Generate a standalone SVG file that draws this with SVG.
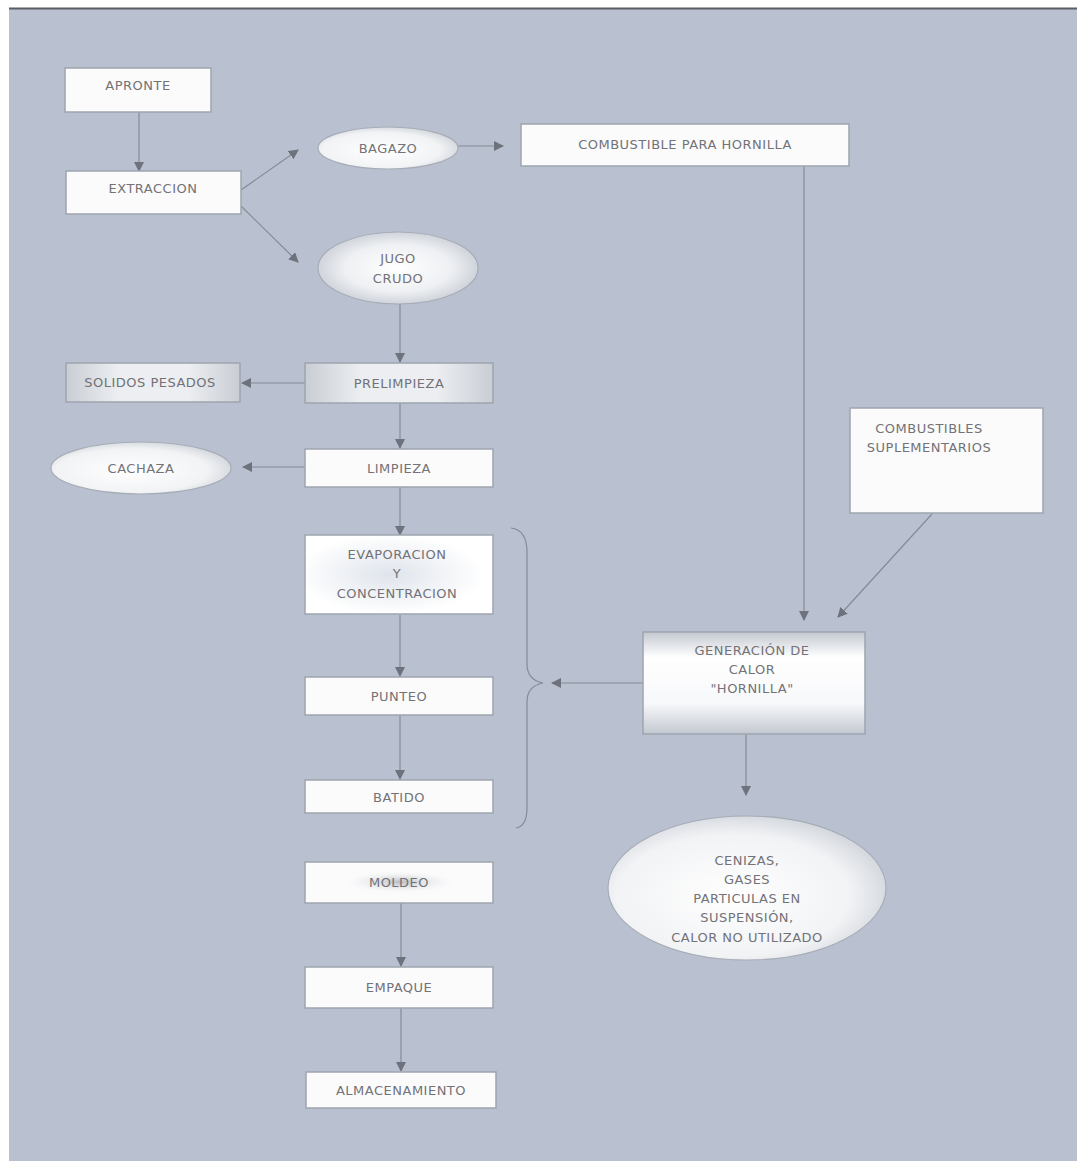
<svg xmlns="http://www.w3.org/2000/svg" width="1077" height="1161" viewBox="0 0 1077 1161">
<style>
  .box{fill:#fbfbfc;stroke:#9ea4ae;stroke-width:1.5}
  .t{font-family:"DejaVu Sans","Liberation Sans",sans-serif;font-size:13px;letter-spacing:0.5px;fill:#727277;text-anchor:middle}
  .c{stroke:#858b96;stroke-width:1.2;fill:none}
</style>
<defs>
  <marker id="ah" viewBox="0 0 10 10" refX="9" refY="5" markerWidth="10" markerHeight="10" markerUnits="userSpaceOnUse" orient="auto">
    <path d="M0,0 L10,5 L0,10 z" fill="#6d727c"/>
  </marker>
  <radialGradient id="gJugo" cx="0.5" cy="0.5" r="0.55">
    <stop offset="0" stop-color="#ffffff"/>
    <stop offset="0.6" stop-color="#eef0f3"/>
    <stop offset="1" stop-color="#c7ccd4"/>
  </radialGradient>
  <radialGradient id="gCach" cx="0.45" cy="0.55" r="0.6">
    <stop offset="0" stop-color="#ffffff"/>
    <stop offset="0.7" stop-color="#f2f3f5"/>
    <stop offset="1" stop-color="#cdd2d9"/>
  </radialGradient>
  <linearGradient id="gPre" x1="0" y1="0" x2="1" y2="0">
    <stop offset="0" stop-color="#c9cdd4"/>
    <stop offset="0.3" stop-color="#eceef1"/>
    <stop offset="0.7" stop-color="#eceef1"/>
    <stop offset="1" stop-color="#c9cdd4"/>
  </linearGradient>
  <linearGradient id="gGen" x1="0" y1="0" x2="0" y2="1">
    <stop offset="0" stop-color="#c3c8d0"/>
    <stop offset="0.25" stop-color="#ffffff"/>
    <stop offset="0.7" stop-color="#f7f8fa"/>
    <stop offset="1" stop-color="#c3c8d0"/>
  </linearGradient>
  <radialGradient id="gEvap" cx="0.45" cy="0.5" r="0.5">
    <stop offset="0" stop-color="#dfe4ec"/>
    <stop offset="1" stop-color="#ffffff"/>
  </radialGradient>
  <radialGradient id="gMold" cx="0.5" cy="0.5" r="0.5">
    <stop offset="0" stop-color="#b9bcc2"/>
    <stop offset="1" stop-color="#ffffff" stop-opacity="0"/>
  </radialGradient>
</defs>

<rect x="0" y="0" width="1077" height="1161" fill="#ffffff"/>
<rect x="9" y="8" width="1068" height="1153" fill="#b9c1d0"/>
<line x1="9" y1="8.5" x2="1077" y2="8.5" stroke="#5a5d63" stroke-width="2"/>

<g id="connectors">
  <line class="c" x1="139" y1="112" x2="139" y2="171" marker-end="url(#ah)"/>
  <line class="c" x1="241" y1="190" x2="298" y2="150" marker-end="url(#ah)"/>
  <line class="c" x1="241" y1="206" x2="298" y2="262" marker-end="url(#ah)"/>
  <line class="c" x1="458" y1="146" x2="503" y2="146" marker-end="url(#ah)"/>
  <line class="c" x1="804" y1="166" x2="804" y2="620" marker-end="url(#ah)"/>
  <line class="c" x1="400" y1="304" x2="400" y2="362" marker-end="url(#ah)"/>
  <line class="c" x1="305" y1="383" x2="242" y2="383" marker-end="url(#ah)"/>
  <line class="c" x1="400" y1="403" x2="400" y2="448" marker-end="url(#ah)"/>
  <line class="c" x1="305" y1="467" x2="243" y2="467" marker-end="url(#ah)"/>
  <line class="c" x1="400" y1="487" x2="400" y2="535" marker-end="url(#ah)"/>
  <line class="c" x1="400" y1="615" x2="400" y2="676" marker-end="url(#ah)"/>
  <line class="c" x1="400" y1="715" x2="400" y2="779" marker-end="url(#ah)"/>
  <line class="c" x1="401" y1="903" x2="401" y2="966" marker-end="url(#ah)"/>
  <line class="c" x1="401" y1="1008" x2="401" y2="1071" marker-end="url(#ah)"/>
  <line class="c" x1="932" y1="514" x2="838" y2="617" marker-end="url(#ah)"/>
  <line class="c" x1="643" y1="683" x2="552" y2="683" marker-end="url(#ah)"/>
  <line class="c" x1="746" y1="734" x2="746" y2="795" marker-end="url(#ah)"/>
  <path class="c" d="M511,528 Q527,530 527,552 L527,664 Q527,680 543,683 Q527,686 527,702 L527,808 Q527,826 516,828"/>
</g>

<g id="apronte"><rect class="box" x="65" y="68" width="146" height="44"/><text class="t" x="138" y="90">APRONTE</text></g>
<g id="extraccion"><rect class="box" x="66" y="171" width="175" height="43"/><text class="t" x="153" y="193">EXTRACCION</text></g>
<g id="bagazo"><ellipse cx="388" cy="148" rx="70" ry="21" fill="url(#gCach)" stroke="#a7adb7" stroke-width="1.2"/><text class="t" x="388" y="153">BAGAZO</text></g>
<g id="combustible"><rect class="box" x="521" y="124" width="328" height="42"/><text class="t" x="685" y="149">COMBUSTIBLE PARA HORNILLA</text></g>
<g id="jugo"><ellipse cx="398" cy="268" rx="80" ry="36" fill="url(#gJugo)" stroke="#a7adb7" stroke-width="1.2"/><text class="t" x="398" y="263">JUGO</text><text class="t" x="398" y="283">CRUDO</text></g>
<g id="prelimpieza"><rect x="305" y="363" width="188" height="40" fill="url(#gPre)" stroke="#9ea4ae" stroke-width="1.5"/><text class="t" x="399" y="388">PRELIMPIEZA</text></g>
<g id="solidos"><rect x="66" y="363" width="174" height="39" fill="url(#gPre)" stroke="#9ea4ae" stroke-width="1.5"/><text class="t" x="150" y="387">SOLIDOS PESADOS</text></g>
<g id="limpieza"><rect class="box" x="305" y="449" width="188" height="38"/><text class="t" x="399" y="473">LIMPIEZA</text></g>
<g id="cachaza"><ellipse cx="141" cy="468" rx="90" ry="26" fill="url(#gCach)" stroke="#a7adb7" stroke-width="1.2"/><text class="t" x="141" y="473">CACHAZA</text></g>
<g id="evaporacion"><rect x="305" y="535" width="188" height="79" fill="url(#gEvap)" stroke="#9ea4ae" stroke-width="1.5"/><text class="t" x="397" y="559">EVAPORACION</text><text class="t" x="397" y="578">Y</text><text class="t" x="397" y="598">CONCENTRACION</text></g>
<g id="punteo"><rect class="box" x="305" y="677" width="188" height="38"/><text class="t" x="399" y="701">PUNTEO</text></g>
<g id="batido"><rect class="box" x="305" y="780" width="188" height="33"/><text class="t" x="399" y="802">BATIDO</text></g>
<g id="moldeo"><rect class="box" x="305" y="862" width="188" height="41"/><rect x="340" y="870" width="120" height="24" fill="url(#gMold)"/><text class="t" x="399" y="887">MOLDEO</text></g>
<g id="empaque"><rect class="box" x="305" y="967" width="188" height="41"/><text class="t" x="399" y="992">EMPAQUE</text></g>
<g id="almacenamiento"><rect class="box" x="306" y="1072" width="190" height="36"/><text class="t" x="401" y="1095">ALMACENAMIENTO</text></g>
<g id="suplementarios"><rect class="box" x="850" y="408" width="193" height="105"/><text class="t" x="929" y="433">COMBUSTIBLES</text><text class="t" x="929" y="452">SUPLEMENTARIOS</text></g>
<g id="generacion"><rect x="643" y="632" width="222" height="102" fill="url(#gGen)" stroke="#9ea4ae" stroke-width="1.5"/><text class="t" x="752" y="655">GENERACIÓN DE</text><text class="t" x="752" y="674">CALOR</text><text class="t" x="752" y="693">"HORNILLA"</text></g>
<g id="cenizas"><ellipse cx="747" cy="888" rx="139" ry="72" fill="url(#gCach)" stroke="#a7adb7" stroke-width="1.2"/><text class="t" x="747" y="865">CENIZAS,</text><text class="t" x="747" y="884">GASES</text><text class="t" x="747" y="903">PARTICULAS EN</text><text class="t" x="747" y="922">SUSPENSIÓN,</text><text class="t" x="747" y="942">CALOR NO UTILIZADO</text></g>
</svg>
